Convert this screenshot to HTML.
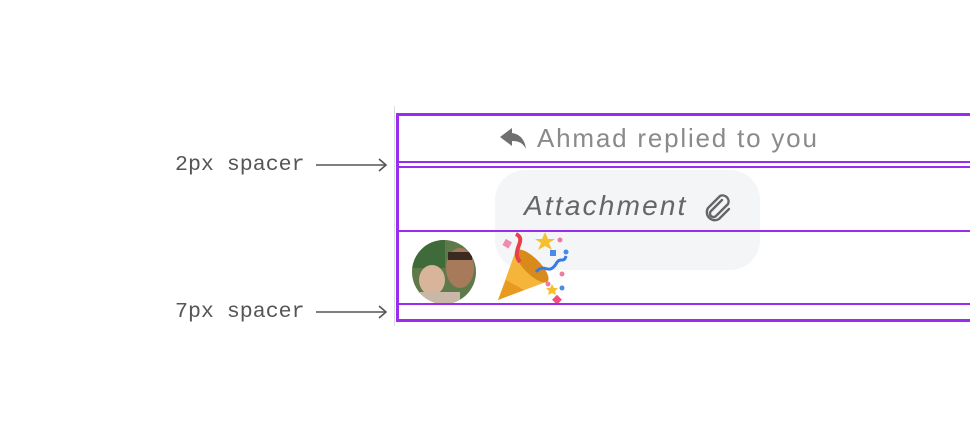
<!DOCTYPE html>
<html><head><style>
html,body{margin:0;padding:0;background:#fff;width:970px;height:436px;overflow:hidden;position:relative}
.a{position:absolute}
.lbl{font-family:"Liberation Mono",monospace;font-size:21.6px;color:#555;line-height:1}
</style></head><body>
<div class="a" style="left:394px;top:106px;width:1px;height:220px;background:#ddd"></div>
<div class="a" style="left:495px;top:170px;width:265px;height:100px;border-radius:30px;background:#f4f5f7"></div>
<svg class="a" style="left:0;top:0" width="970" height="436">
  <g fill="#707070">
    <path d="M512 128 L500 137 L512 146 L512 141 C519 141 523 143 526 149 C525 140 520 134 512 133 Z"/>
  </g>
  <text x="537" y="147" font-family="Liberation Sans,sans-serif" font-size="26" letter-spacing="1.8" fill="#8a8a8a">Ahmad replied to you</text>
  <text x="524" y="215" font-family="Liberation Sans,sans-serif" font-size="28" font-style="italic" letter-spacing="2.2" fill="#666">Attachment</text>
  <path d="M722 200 L711 211 a3.5 3.5 0 0 0 5 5 L728 204 a6 6 0 0 0 -8 -8 L708 208 a8 8 0 0 0 11 11 L729 209" fill="none" stroke="#666" stroke-width="2.4" stroke-linecap="round"/>
  <defs><clipPath id="c"><circle cx="444" cy="272" r="32"/></clipPath></defs>
  <g clip-path="url(#c)">
    <rect x="410" y="238" width="70" height="70" fill="#5e7a4a"/>
    <rect x="410" y="238" width="35" height="30" fill="#3f6b3a"/>
    <ellipse cx="460" cy="268" rx="14" ry="20" fill="#a87a5c"/>
    <ellipse cx="432" cy="280" rx="13" ry="15" fill="#d8b49a"/>
    <rect x="420" y="292" width="40" height="20" fill="#c9b7a8"/>
    <rect x="448" y="252" width="24" height="8" fill="#3a2a22"/>
  </g>
  <g>
    <path d="M498 300 L516 250 L546 282 Z" fill="#f5b53a"/>
    <path d="M498 300 L506 280 L524 290 Z" fill="#e89a20"/>
    <ellipse cx="532" cy="266" rx="8" ry="22" transform="rotate(-45 532 266)" fill="#d88a1a"/>
    <path d="M520 262 C510 250 528 240 516 234" stroke="#e8404a" stroke-width="4" fill="none"/>
    <path d="M536 272 C545 262 548 276 556 264 C560 256 564 264 566 256" stroke="#3a7ae8" stroke-width="3" fill="none"/>
    <polygon points="545,232 548,239 555,239 549,243 552,250 545,246 538,250 541,243 535,239 542,239" fill="#f5c030"/>
    <rect x="504" y="240" width="7" height="7" fill="#f08ab0" transform="rotate(30 507 243)"/>
    <rect x="550" y="250" width="6" height="6" fill="#4a8ae8"/>
    <circle cx="560" cy="240" r="2.5" fill="#f07aa0"/>
    <circle cx="566" cy="252" r="2.5" fill="#4a8ae8"/>
    <circle cx="562" cy="274" r="2.5" fill="#f07aa0"/>
    <circle cx="562" cy="288" r="2.5" fill="#4a8ae8"/>
    <circle cx="548" cy="284" r="2.5" fill="#f07aa0"/>
    <rect x="554" y="296" width="7" height="7" fill="#f05080" transform="rotate(45 557 299)"/>
    <polygon points="552,284 554,288 558,288 555,291 556,295 552,293 548,295 549,291 546,288 550,288" fill="#f5c030"/>
  </g>
  <g stroke="#9a2cf0" fill="none">
    <rect x="397.5" y="114.5" width="580" height="206" stroke-width="3"/>
    <line x1="396" y1="162" x2="970" y2="162" stroke-width="2"/>
    <line x1="396" y1="167" x2="970" y2="167" stroke-width="2"/>
    <line x1="396" y1="231" x2="970" y2="231" stroke-width="2"/>
    <line x1="396" y1="304" x2="970" y2="304" stroke-width="2"/>
  </g>
  <g stroke="#555" stroke-width="1.6" fill="none">
    <line x1="316" y1="165" x2="386" y2="165"/>
    <polyline points="379,159 386,165 379,171"/>
    <line x1="316" y1="312" x2="386" y2="312"/>
    <polyline points="379,306 386,312 379,318"/>
  </g>
</svg>
<div class="a lbl" style="left:175px;top:155px">2px spacer</div>
<div class="a lbl" style="left:175px;top:302px">7px spacer</div>
</body></html>
